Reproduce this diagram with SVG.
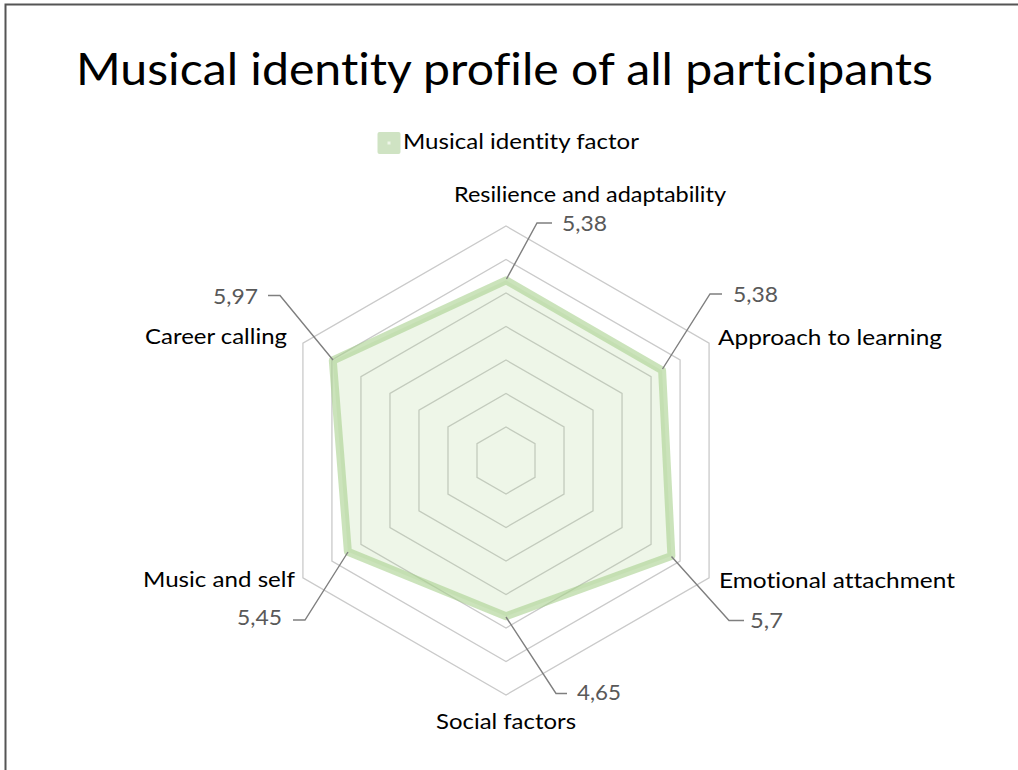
<svg xmlns="http://www.w3.org/2000/svg" width="1018" height="770" viewBox="0 0 1018 770">
  <style>
    text { font-family: Lato, "Liberation Sans", sans-serif; font-variant-ligatures: none; font-feature-settings: "liga" 0, "clig" 0; }
    .title { font-size: 44px; fill: #000; }
    .cat { font-size: 22px; fill: #000; }
    .val { font-size: 22px; fill: #595959; }
    .legend { font-size: 21px; fill: #000; }
    .grid { fill: none; stroke: #cacaca; stroke-width: 1.3; }
    .leader { fill: none; stroke: #7f7f7f; stroke-width: 1.4; }
  </style>
  <rect x="0" y="0" width="1018" height="770" fill="#ffffff"/>
  <path d="M5.5,770 V4.5 H1018" fill="none" stroke="#555555" stroke-width="2"/>

  <g id="title">
    <text class="title" x="76" y="85" textLength="857" lengthAdjust="spacingAndGlyphs">Musical identity profile of all participants</text>
  </g>

  <g id="legend">
    <rect x="377.5" y="132" width="23" height="22" rx="2" fill="#cfe3c3"/>
    <rect x="387.5" y="141.5" width="3" height="3" fill="#eef6e8"/>
    <text class="legend" x="403" y="148.5" textLength="236" lengthAdjust="spacingAndGlyphs">Musical identity factor</text>
  </g>

  <g id="grid">
    <polygon class="grid" points="506,427 535.01,443.75 535.01,477.25 506,494 476.99,477.25 476.99,443.75"/>
    <polygon class="grid" points="506,393.5 564.02,427 564.02,494 506,527.5 447.98,494 447.98,427"/>
    <polygon class="grid" points="506,360 593.03,410.25 593.03,510.75 506,561 418.97,510.75 418.97,410.25"/>
    <polygon class="grid" points="506,326.5 622.04,393.5 622.04,527.5 506,594.5 389.96,527.5 389.96,393.5"/>
    <polygon class="grid" points="506,293 651.06,376.75 651.06,544.25 506,628 360.94,544.25 360.94,376.75"/>
    <polygon class="grid" points="506,259.5 680.07,360 680.07,561 506,661.5 331.93,561 331.93,360"/>
    <polygon class="grid" points="506,226 709.08,343.25 709.08,577.75 506,695 302.92,577.75 302.92,343.25"/>
  </g>

  <g id="series">
    <polygon points="506,280.3 662.1,370.4 671.4,556 506,616.3 347.9,551.8 332.8,360.5" fill="#a9d18e" fill-opacity="0.2" stroke="#a9d18e" stroke-opacity="0.6" stroke-width="8" stroke-linejoin="round"/>
  </g>

  <g id="connectors">
    <polyline class="leader" points="506.5,279 537,223 552,223"/>
    <polyline class="leader" points="662.5,369 710,294 722,294"/>
    <polyline class="leader" points="333,360 280,295.5 268,295.5"/>
    <polyline class="leader" points="348,552 305,620 293,620"/>
    <polyline class="leader" points="671.5,556.5 729,620.5 744,620.5"/>
    <polyline class="leader" points="506,617 556,693.5 567,693.5"/>
  </g>

  <g id="node-resilience">
    <text class="cat" x="454" y="202" textLength="272" lengthAdjust="spacingAndGlyphs">Resilience and adaptability</text>
    <text class="val" x="562" y="231" textLength="45" lengthAdjust="spacingAndGlyphs">5,38</text>
  </g>
  <g id="node-approach">
    <text class="cat" x="718" y="345" textLength="224" lengthAdjust="spacingAndGlyphs">Approach to learning</text>
    <text class="val" x="733" y="302" textLength="45" lengthAdjust="spacingAndGlyphs">5,38</text>
  </g>
  <g id="node-emotional">
    <text class="cat" x="719" y="588" textLength="236" lengthAdjust="spacingAndGlyphs">Emotional attachment</text>
    <text class="val" x="750" y="628" textLength="33" lengthAdjust="spacingAndGlyphs">5,7</text>
  </g>
  <g id="node-social">
    <text class="cat" x="436" y="729" textLength="140" lengthAdjust="spacingAndGlyphs">Social factors</text>
    <text class="val" x="577" y="700" textLength="44" lengthAdjust="spacingAndGlyphs">4,65</text>
  </g>
  <g id="node-music-self">
    <text class="cat" x="143" y="587" textLength="152" lengthAdjust="spacingAndGlyphs">Music and self</text>
    <text class="val" x="237" y="625" textLength="45" lengthAdjust="spacingAndGlyphs">5,45</text>
  </g>
  <g id="node-career">
    <text class="cat" x="145" y="344" textLength="142" lengthAdjust="spacingAndGlyphs">Career calling</text>
    <text class="val" x="213" y="304" textLength="45" lengthAdjust="spacingAndGlyphs">5,97</text>
  </g>
</svg>
